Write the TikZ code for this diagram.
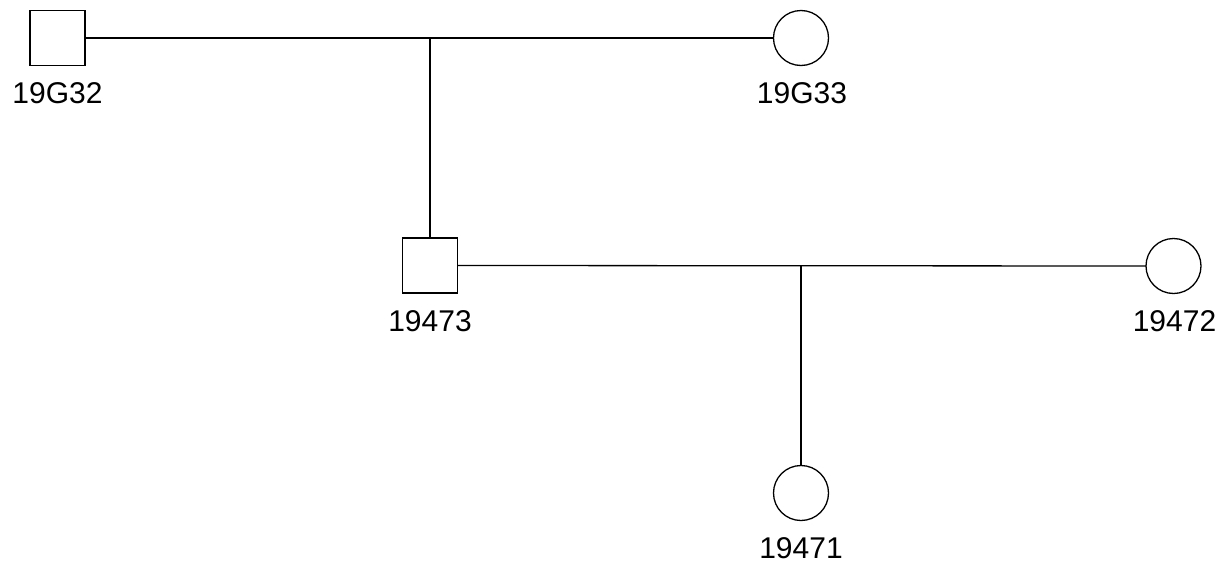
\documentclass[tikz,border=0pt]{standalone}
\usepackage{fontspec}
\setmainfont{Liberation Sans}
\begin{document}
\begin{tikzpicture}[x=1pt,y=-1pt,
  male/.style={draw,line width=1.3pt,minimum size=55pt,inner sep=0pt,outer sep=0pt},
  female/.style={draw,circle,line width=1.3pt,minimum size=55pt,inner sep=0pt,outer sep=0pt},
  lbl/.style={anchor=base,inner sep=0pt,font=\fontsize{30}{35}\selectfont},
  conn/.style={line width=1.3pt}]
\useasboundingbox (0,0) rectangle (1220,565);
\node[male] (a) at (57.5,38) {};
\node[female] (b) at (801,38) {};
\node[male] (c) at (430,265.5) {};
\node[female] (d) at (1173.5,266) {};
\node[female] (e) at (801,493) {};
\node[lbl] (la) at (57.5,103) {19G32};
\node[lbl] (lb) at (802,103) {19G33};
\node[lbl] (lc) at (430,331) {19473};
\node[lbl] (ld) at (1174.5,331) {19472};
\node[lbl] (le) at (801,558) {19471};
\coordinate (m1) at (430,38);
\coordinate (m2) at (801,266);
\draw[conn] (a.east) -- (b.west);
\draw[conn] (m1) -- (c.north);
\draw[conn] (c.east) -- (d.west);
\draw[conn] (m2) -- (e.north);
\end{tikzpicture}
\end{document}
